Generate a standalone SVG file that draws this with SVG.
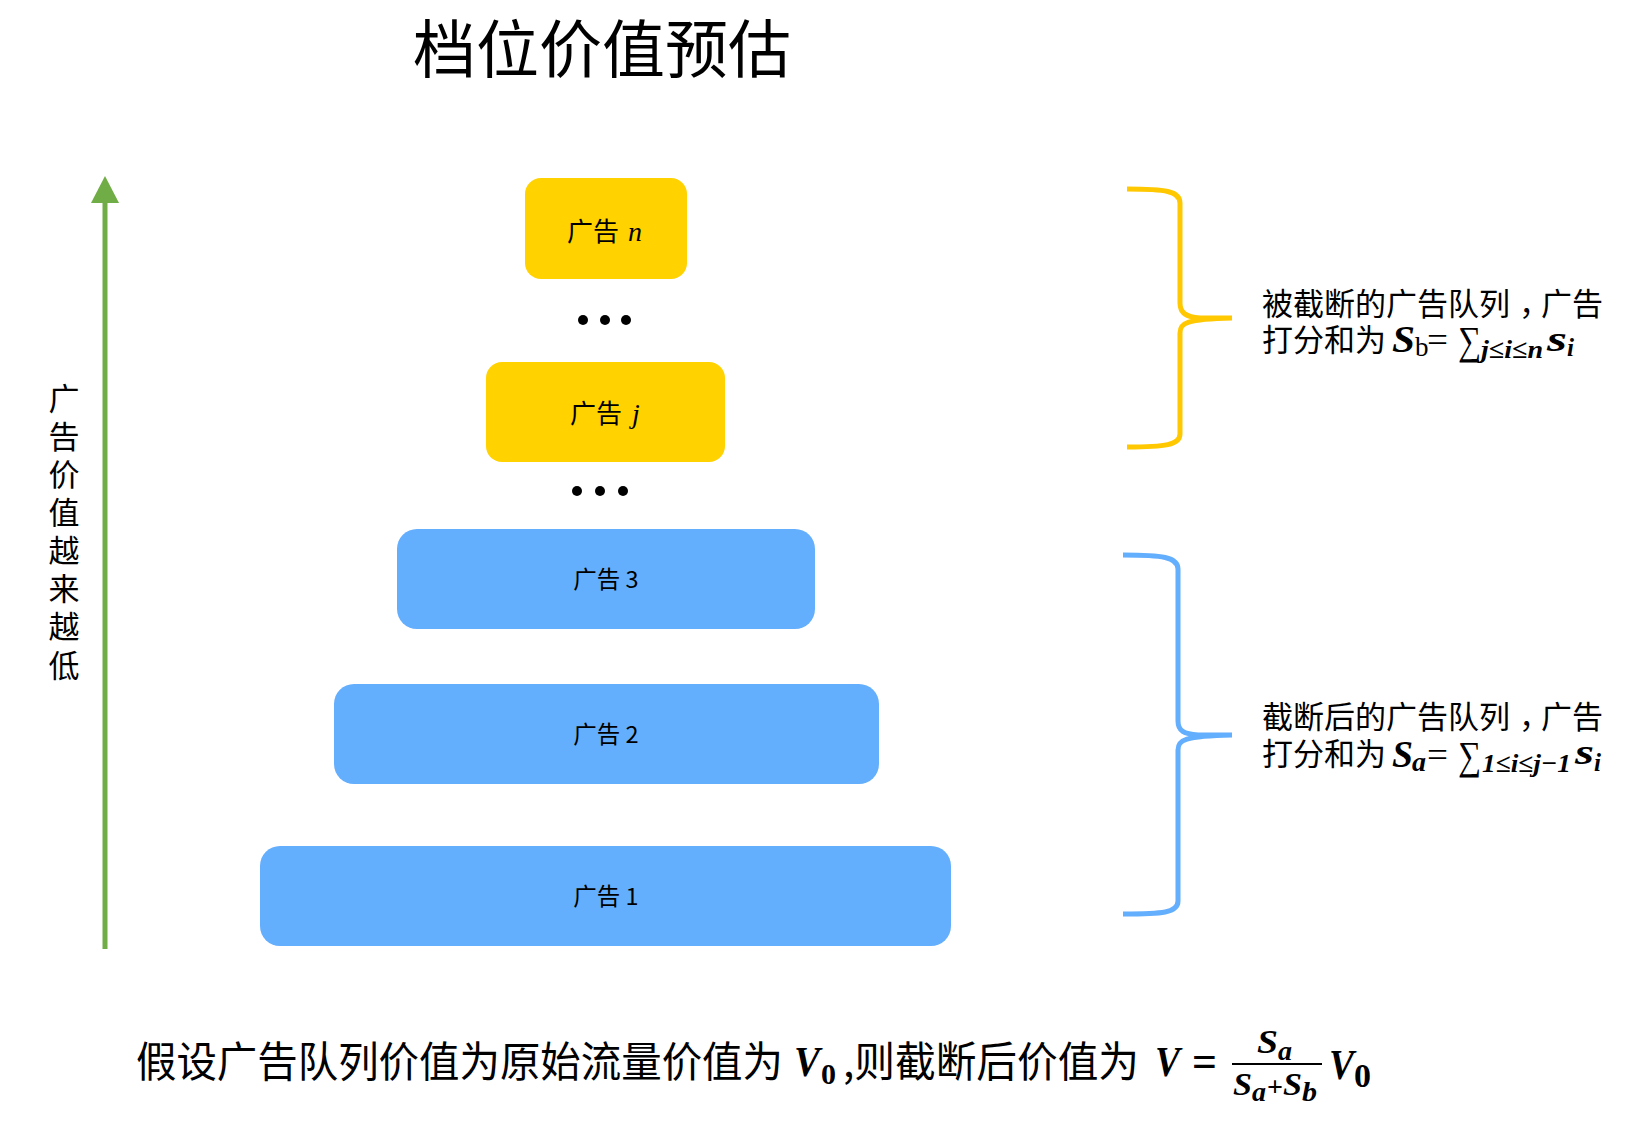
<svg xmlns="http://www.w3.org/2000/svg" width="1627" height="1125" viewBox="0 0 1627 1125">
<style>
.cjk{font-family:"Noto Sans CJK SC","Noto Sans",sans-serif;fill:#000}
.bi{font-family:"Liberation Serif","DejaVu Serif",serif;font-weight:bold;font-style:italic}
.b{font-family:"Liberation Serif","DejaVu Serif",serif;font-weight:bold}
.r{font-family:"Liberation Serif","DejaVu Serif",serif}
.yb{fill:#FFD200}
.bb{fill:#64AEFE}
.lbl{font-size:23.5px;text-anchor:middle}
.ylbl{font-size:26px;text-anchor:middle}
.dot{fill:#000}
</style>
<rect width="1627" height="1125" fill="#fff"/>

<g id="title">
<text class="cjk" x="602" y="72" font-size="63" text-anchor="middle">档位价值预估</text>
</g>

<g id="connectors">
<line x1="105" y1="949" x2="105" y2="200" stroke="#70AD47" stroke-width="5"/>
<polygon points="105,176 91,203 119,203" fill="#70AD47"/>
<path d="M1127,189 C1165,189 1180,191 1180,203 L1180,303 C1180,313 1186,317 1200,318 L1232,318 C1186,319 1180,323 1180,333 L1180,434 C1180,445 1165,447 1127,447" fill="none" stroke="#FFC800" stroke-width="5"/>
<path d="M1123,555 C1162,555 1178,557 1178,569 L1178,721 C1178,731 1184,734 1198,735 L1232,735 C1184,736 1178,740 1178,750 L1178,901 C1178,913 1162,914 1123,914" fill="none" stroke="#64AEFE" stroke-width="5"/>
</g>

<g id="axis-label">
<text class="cjk" font-size="31" text-anchor="middle">
<tspan x="64" y="410">广</tspan><tspan x="64" y="448">告</tspan><tspan x="64" y="486">价</tspan><tspan x="64" y="524">值</tspan><tspan x="64" y="562">越</tspan><tspan x="64" y="600">来</tspan><tspan x="64" y="638">越</tspan><tspan x="64" y="677">低</tspan>
</text>
</g>

<g id="ad-n">
<rect class="yb" x="525" y="178" width="162" height="101" rx="16"/>
<text class="cjk ylbl" x="593" y="241">广告<tspan class="r" x="628" font-size="28" font-style="italic" text-anchor="start">n</tspan></text>
</g>

<g id="dots-1">
<circle class="dot" cx="583" cy="320" r="5"/>
<circle class="dot" cx="605" cy="320" r="5"/>
<circle class="dot" cx="626" cy="320" r="5"/>
</g>

<g id="ad-j">
<rect class="yb" x="486" y="362" width="239" height="100" rx="16"/>
<text class="cjk ylbl" x="596" y="423">广告<tspan class="r" x="632" font-size="28" font-style="italic" text-anchor="start">j</tspan></text>
</g>

<g id="dots-2">
<circle class="dot" cx="577" cy="491" r="5"/>
<circle class="dot" cx="600" cy="491" r="5"/>
<circle class="dot" cx="623" cy="491" r="5"/>
</g>

<g id="ad-3">
<rect class="bb" x="397" y="529" width="418" height="100" rx="20"/>
<text class="cjk lbl" x="606" y="588">广告 3</text>
</g>

<g id="ad-2">
<rect class="bb" x="334" y="684" width="545" height="100" rx="20"/>
<text class="cjk lbl" x="606" y="743">广告 2</text>
</g>

<g id="ad-1">
<rect class="bb" x="260" y="846" width="691" height="100" rx="20"/>
<text class="cjk lbl" x="606" y="905">广告 1</text>
</g>

<g id="note-b">
<text class="cjk" font-size="31"><tspan x="1262" y="315">被截断的广告队列<tspan dx="9">，</tspan><tspan dx="-9">广告</tspan></tspan><tspan x="1262" y="351">打分和为</tspan><tspan class="bi" x="1392" y="352" font-size="37" textLength="23" lengthAdjust="spacingAndGlyphs">S</tspan><tspan class="r" x="1415" y="356" font-size="27">b</tspan><tspan class="r" x="1427" y="352" font-size="35" textLength="21" lengthAdjust="spacingAndGlyphs">=</tspan><tspan class="r" x="1458" y="354" font-size="40" textLength="23" lengthAdjust="spacingAndGlyphs">∑</tspan><tspan class="bi" x="1481" y="358" font-size="26" textLength="62" lengthAdjust="spacingAndGlyphs">j≤i≤n</tspan><tspan class="bi" x="1547" y="351" font-size="36" textLength="20" lengthAdjust="spacingAndGlyphs">s</tspan><tspan class="bi" x="1567" y="356" font-size="25">i</tspan></text>
</g>

<g id="note-a">
<text class="cjk" font-size="31"><tspan x="1262" y="728">截断后的广告队列<tspan dx="9">，</tspan><tspan dx="-9">广告</tspan></tspan><tspan x="1262" y="765">打分和为</tspan><tspan class="bi" x="1392" y="767" font-size="37" textLength="21" lengthAdjust="spacingAndGlyphs">S</tspan><tspan class="bi" x="1412" y="771" font-size="27" textLength="14" lengthAdjust="spacingAndGlyphs">a</tspan><tspan class="r" x="1427" y="767" font-size="35" textLength="21" lengthAdjust="spacingAndGlyphs">=</tspan><tspan class="r" x="1458" y="769" font-size="40" textLength="23" lengthAdjust="spacingAndGlyphs">∑</tspan><tspan class="bi" x="1482" y="772" font-size="26" textLength="89" lengthAdjust="spacingAndGlyphs">1≤i≤j−1</tspan><tspan class="bi" x="1575" y="764" font-size="36" textLength="19" lengthAdjust="spacingAndGlyphs">s</tspan><tspan class="bi" x="1594" y="771" font-size="25">i</tspan></text>
</g>

<g id="formula">
<text class="cjk" font-size="42"><tspan x="136" y="1077" textLength="647" lengthAdjust="spacingAndGlyphs">假设广告队列价值为原始流量价值为</tspan><tspan class="bi" x="794" y="1076" font-size="42" textLength="26" lengthAdjust="spacingAndGlyphs">V</tspan><tspan class="b" x="821" y="1084" font-size="30" textLength="15" lengthAdjust="spacingAndGlyphs">0</tspan><tspan x="843" y="1077" textLength="296" lengthAdjust="spacingAndGlyphs">,则截断后价值为</tspan><tspan class="bi" x="1155" y="1076" font-size="42" textLength="25" lengthAdjust="spacingAndGlyphs">V</tspan><tspan class="b" x="1192" y="1076" font-size="44" textLength="25" lengthAdjust="spacingAndGlyphs">=</tspan></text>
<text><tspan class="bi" x="1257" y="1053" font-size="33" textLength="21" lengthAdjust="spacingAndGlyphs">S</tspan><tspan class="bi" x="1278" y="1060" font-size="28" textLength="14" lengthAdjust="spacingAndGlyphs">a</tspan></text>
<line x1="1232" y1="1064" x2="1322" y2="1064" stroke="#000" stroke-width="2"/>
<text><tspan class="bi" x="1233" y="1095" font-size="31" textLength="19" lengthAdjust="spacingAndGlyphs">S</tspan><tspan class="bi" x="1252" y="1101" font-size="27" textLength="14" lengthAdjust="spacingAndGlyphs">a</tspan><tspan class="b" x="1267" y="1096" font-size="28" textLength="16" lengthAdjust="spacingAndGlyphs">+</tspan><tspan class="bi" x="1283" y="1095" font-size="31" textLength="19" lengthAdjust="spacingAndGlyphs">S</tspan><tspan class="bi" x="1302" y="1101" font-size="28" textLength="15" lengthAdjust="spacingAndGlyphs">b</tspan></text>
<text><tspan class="bi" x="1329" y="1079" font-size="42" textLength="25" lengthAdjust="spacingAndGlyphs">V</tspan><tspan class="b" x="1354" y="1087" font-size="34" textLength="17" lengthAdjust="spacingAndGlyphs">0</tspan></text>
</g>
</svg>
